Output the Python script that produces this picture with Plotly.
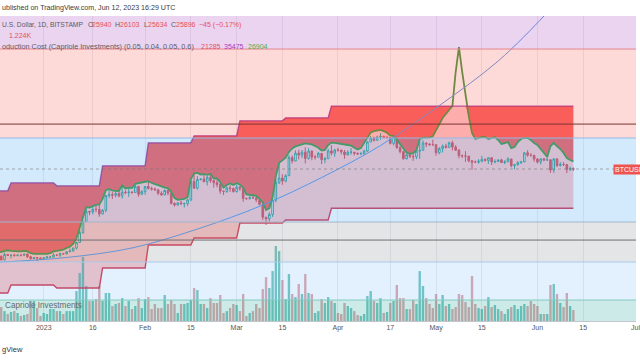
import numpy as np
import pandas as pd
import plotly.graph_objects as go

# ---------------- data ----------------
dates = pd.date_range("2022-12-18", "2023-06-12", freq="D")

open_ = [16780,16740,16440,16900,16820,16830,16780,16840,16830,16920,16700,16550,16630,16600,
 16540,16610,16670,16670,16850,16830,16950,16940,17120,17180,17440,17940,18850,19930,20950,20880,21170,21160,20680,21070,22670,22780,22710,22920,22630,23060,23010,23080,23030,23740,22830,
 23130,23730,23490,23430,23330,22930,22760,23260,22960,21800,21630,21860,21780,21790,22200,24330,23520,24570,24630,24300,24840,24450,24190,23950,23190,23160,23560,23490,
 23130,23650,23470,22360,22350,22430,22410,22200,21700,20360,20190,20630,22160,24200,24750,24380,25050,27420,26960,28040,27770,28170,27300,28330,27490,27490,27990,27140,27270,28350,28030,
 28480,28460,28200,27800,28170,28170,28030,27920,27950,28330,29650,30230,29890,30390,30480,30320,30320,29440,30400,28820,28250,27270,27820,27590,27520,28310,28430,29480,29340,29250,
 29230,28090,28680,29030,28850,29530,28900,28450,27690,27650,27620,26990,26800,26780,26930,27190,27030,27400,26830,26890,27110,26750,26850,27230,26330,26470,26720,26860,28080,27750,27700,
 27220,26820,27250,27080,27120,25760,27240,26350,26500,26480,25850,25940]
high = [16860,16810,17050,16920,16860,16960,16870,16860,16940,16970,16780,16660,16640,16640,
 16640,16770,16760,16990,16880,17040,16980,17170,17400,17490,17990,19110,19990,21260,21000,21460,21620,21650,21190,22750,23380,23080,23160,23130,23790,23290,23500,23160,23950,23800,23300,
 23800,24250,23710,23590,23440,23160,23370,23450,23010,21930,21900,22090,21890,22310,24390,25250,24990,24720,25130,25030,25120,24480,24600,24130,23220,23680,23880,23600,
 23980,23790,23480,22420,22620,22600,22540,22280,21830,20370,20860,22200,24560,26460,25240,25210,27750,27720,28430,28520,28480,28870,28730,28420,27780,28200,28040,27500,28650,29170,28650,
 28800,28530,28490,28440,28750,28190,28110,28170,28520,29770,30550,30450,30600,31000,30600,30570,30350,30490,30410,29080,28370,27880,27830,28000,28390,30020,29890,29580,29460,29970,
 29340,28880,29270,29370,29690,29840,29180,28630,27830,28320,27640,27070,27030,27200,27660,27280,27480,27480,27180,27150,27270,27060,27480,27230,26530,26940,26880,28200,28440,28050,27830,
 27350,27300,27330,27440,27140,27350,27360,26800,26800,26530,26210,26103]
low = [16700,16400,16400,16760,16560,16770,16780,16730,16790,16600,16470,16510,16340,16480,
 16490,16550,16600,16650,16750,16680,16910,16920,17100,17150,17320,17920,18720,19890,20560,20640,20870,20400,20660,20870,22420,22300,22480,22480,22330,22850,22540,22880,22990,22550,22740,
 22770,23380,23230,23260,22760,22640,22700,22700,21700,21460,21600,21640,21370,21540,22050,23500,23360,24470,24270,23850,24160,23600,23630,22870,22730,22980,23100,23030,
 23030,23220,21980,22180,22200,22330,21940,21600,20060,19570,19900,20380,21920,24030,23930,24220,25000,26630,26890,27180,27380,26630,27140,27050,27150,27400,26550,26660,27240,27720,27540,
 28250,27870,27260,27680,27820,27720,27780,27880,27820,28190,29620,29700,29860,29960,30230,30150,29270,29140,28660,28010,27140,27150,27350,26970,27210,27250,28380,28900,29090,29120,
 27680,27880,28130,28700,28800,28400,28410,27330,27370,26840,26760,25810,26700,26610,26770,26880,26560,26420,26640,26800,26680,26540,26810,26110,25870,26330,26570,26780,27540,27560,26850,
 26620,26510,26940,26960,25400,25400,26140,26220,26290,25380,25650,25634]
close = [16740,16440,16900,16820,16830,16780,16840,16830,16920,16700,16550,16630,16600,16540,
 16610,16670,16670,16850,16830,16950,16940,17120,17180,17440,17940,18850,19930,20950,20880,21170,21160,20680,21070,22670,22780,22710,22920,22630,23060,23010,23080,23030,23740,22830,23130,
 23730,23490,23430,23330,22930,22760,23260,22960,21800,21630,21860,21780,21790,22200,24330,23520,24570,24630,24300,24840,24450,24190,23950,23190,23160,23560,23490,23130,
 23650,23470,22360,22350,22430,22410,22200,21700,20360,20190,20630,22160,24200,24750,24380,25050,27420,26960,28040,27770,28170,27300,28330,27490,27490,27990,27140,27270,28350,28030,28480,
 28460,28200,27800,28170,28170,28030,27920,27950,28330,29650,30230,29890,30390,30480,30320,30320,29440,30400,28820,28250,27270,27820,27590,27520,28310,28430,29480,29340,29250,29230,
 28090,28680,29030,28850,29530,28900,28450,27690,27650,27620,26990,26800,26780,26930,27190,27030,27400,26830,26890,27110,26750,26850,27230,26330,26470,26720,26860,28080,27750,27700,27220,
 26820,27250,27080,27120,25760,27240,26350,26500,26480,25850,25940,25896]
volume = [2000,1550,1100,780,1000,1100,890,560,670,780,2220,2220,1440,560,
 890,780,1330,1330,1100,1100,780,1100,1100,1100,3330,5330,7100,3890,2220,2220,2440,3890,2220,3110,3110,1670,1890,2000,2550,1670,2220,1330,1670,2550,1440,
 2440,2660,1330,1890,1440,1440,2890,1890,2330,1890,890,1890,1890,2000,2330,3660,3440,1890,1890,1440,2550,2000,2000,2890,890,1100,1440,1890,
 1780,1100,3000,560,890,1100,1890,1440,3550,4880,3660,5550,8330,7770,4550,2440,5220,3000,2660,4110,3000,5220,3110,3000,890,1100,2440,2000,2660,2220,2000,
 890,780,2000,1670,1440,1100,670,560,780,2780,3330,2220,2000,2550,890,1000,2000,2220,4000,2550,2550,1330,1330,2330,1890,5550,3890,2550,1890,1440,
 3000,1890,2890,1670,1890,1330,1550,3000,2890,2110,1550,5000,1890,1440,1330,1670,2660,1550,1780,1330,1100,780,1330,1550,1780,1330,1670,1890,1670,2220,1890,
 1670,780,780,780,4000,4110,3000,2000,1550,3110,1670,1224]
# green line of the production-cost indicator
cost_signal = [17150,17100,17200,17250,17200,17150,17150,17150,17200,17150,17000,16950,16950,16900,
 16900,16950,17000,17150,17200,17250,17300,17450,17550,17800,18300,19300,20400,21400,21350,21500,21650,21700,22300,23300,23450,23250,23250,23200,23850,23500,23600,23550,24050,24150,24250,
 24300,24350,24150,24000,23900,23700,23600,23550,23100,22400,22200,22250,22300,22500,24600,25350,25400,25200,25250,25150,25250,24700,24700,24250,23600,23900,24100,23900,
 24150,23950,23600,22800,22750,22700,22650,22300,21900,21100,21300,22500,25000,26700,27000,27400,28200,28700,29000,29200,29300,29450,29400,29300,29050,28800,28400,28500,29200,29550,29500,
 29450,29350,29300,29200,29100,28800,28550,28750,29500,30400,31100,31300,31450,31500,31300,31050,30600,30550,30000,29300,28600,28100,27950,28050,28450,30100,30300,30300,30350,30500,
 31470,32590,33420,34090,34780,35490,42060,47660,42060,37490,33750,31000,30090,30240,30390,30390,30090,30240,30390,29940,29340,29490,29640,28760,28910,29640,30090,30240,30240,29940,29490,
 29200,28620,28050,27500,29050,29490,29050,28620,28050,27360,27090,26904]

# stepped production-cost levels (start date of each step)
cost_step_start = ["2022-12-18","2022-12-22","2023-01-05","2023-01-19","2023-02-02",
                   "2023-02-16","2023-03-02","2023-03-16","2023-03-30"]
cost_lower = [13930,14500,14285,15787,17711,18340,19769,20067,21285]
cost_upper = [23217,24167,23808,26312,29518,30567,32948,33445,35475]

# blue curve
curve_dates = ["2022-12-18","2023-01-08","2023-01-28","2023-02-17","2023-03-09","2023-03-27",
               "2023-04-14","2023-05-02","2023-05-20","2023-06-03","2023-06-07"]
curve_values = [16250,16640,17450,19180,21630,24820,29120,35570,44440,55650,60000]

# horizontal zones (price edges, bottom -> top) and their colours
Y_BOTTOM, Y_TOP = 12112, 55660
zone_edges = [Y_BOTTOM, 13450, 16267, 19866, 30238, 47185, Y_TOP]
zone_colors = ["rgba(0,150,136,0.20)", "rgba(33,150,243,0.13)", "rgba(120,123,134,0.20)",
               "rgba(33,150,243,0.20)", "rgba(244,67,54,0.20)", "rgba(156,39,176,0.20)"]
level_lines = [(13450, "#86cbc2"), (16267, "#a9cbea"), (18155, "#6f6f6f"), (19866, "#a3b6cc"),
               (30238, "#93b9e6"), (32420, "#7a3535"), (47185, "#e5858f")]

tick_vals = ["2023-01-01","2023-01-16","2023-02-01","2023-02-15","2023-03-01","2023-03-15",
             "2023-04-01","2023-04-17","2023-05-01","2023-05-15","2023-06-01","2023-06-15","2023-07-01"]
tick_text = ["2023","16","Feb","15","Mar","15","Apr","17","May","15","Jun","15","Jul"]

# ---------------- derived ----------------
step_idx = pd.to_datetime(cost_step_start)
lower_d = pd.Series(cost_lower, index=step_idx).reindex(dates, method="ffill").values
upper_d = pd.Series(cost_upper, index=step_idx).reindex(dates, method="ffill").values
signal = np.array(cost_signal, dtype=float)
mid = np.minimum(signal, upper_d)

FONT = "Liberation Sans"
fig = go.Figure()

# fills (main log axis y)
fig.add_trace(go.Scatter(x=dates, y=lower_d, mode="lines", line=dict(width=0),
                         hoverinfo="skip"))
fig.add_trace(go.Scatter(x=dates, y=mid, mode="lines", line=dict(width=0), fill="tonexty",
                         fillcolor="rgb(255,200,202)", hoverinfo="skip"))
fig.add_trace(go.Scatter(x=dates, y=upper_d, mode="lines", line=dict(width=0), fill="tonexty",
                         fillcolor="rgb(252,102,99)", hoverinfo="skip"))

# volume (y2)
vol_colors = ["rgba(38,166,154,0.6)" if c >= o else "rgba(205,100,108,0.55)"
              for o, c in zip(open_, close)]
fig.add_trace(go.Bar(x=dates, y=volume, marker=dict(color=vol_colors, line=dict(width=0)),
                     yaxis="y2", hoverinfo="skip"))

# candles and lines on top (y3, same log scale as y)
fig.add_trace(go.Candlestick(
    x=dates, open=open_, high=high, low=low, close=close, yaxis="y3",
    increasing=dict(line=dict(color="#3fa39b", width=1), fillcolor="rgba(255,255,255,0.9)"),
    decreasing=dict(line=dict(color="#e2535c", width=1), fillcolor="#e2535c"),
    whiskerwidth=0, hoverinfo="skip"))
fig.add_trace(go.Scatter(x=dates, y=signal, mode="lines", yaxis="y3",
                         line=dict(color="#4f9c45", width=1.8), hoverinfo="skip"))
fig.add_trace(go.Scatter(x=dates, y=upper_d, mode="lines", yaxis="y3",
                         line=dict(color="rgba(150,40,150,0.75)", width=1.4), hoverinfo="skip"))
fig.add_trace(go.Scatter(x=dates, y=lower_d, mode="lines", yaxis="y3",
                         line=dict(color="#dd3f55", width=1.4), hoverinfo="skip"))
fig.add_trace(go.Scatter(x=pd.to_datetime(curve_dates), y=curve_values, mode="lines", yaxis="y3",
                         line=dict(color="#5f9de8", width=1, shape="spline"), hoverinfo="skip"))

# zones and level lines on top (translucent)
shapes = []
for i, col in enumerate(zone_colors):
    shapes.append(dict(type="rect", xref="paper", yref="y", x0=0, x1=1,
                       y0=zone_edges[i], y1=zone_edges[i + 1], fillcolor=col,
                       line=dict(width=0), layer="above"))
for lvl, col in level_lines:
    shapes.append(dict(type="line", xref="paper", yref="y", x0=0, x1=1, y0=lvl, y1=lvl,
                       line=dict(color=col, width=1), layer="above"))
shapes.append(dict(type="line", xref="paper", yref="y", x0=0, x1=1, y0=close[-1], y1=close[-1],
                   line=dict(color="rgba(120,120,120,0.6)", width=1, dash="dot"), layer="above"))
fig.update_layout(shapes=shapes)

def px_x(x):
    return x / 640

def px_y(y):
    return (321 - y) / 305

GREY = "#5b5b66"
RED = "#e8505a"
ann = []

def txt(s, x, y, color, size=7):
    ann.append(dict(text=s, x=px_x(x), y=px_y(y), xref="paper", yref="paper",
                    xanchor="left", yanchor="middle", showarrow=False,
                    font=dict(family=FONT, size=size, color=color)))

txt("ublished on TradingView.com, Jun 12, 2023 16:29 UTC", 0, 8, "#3a3a3a", 7.1)
txt("U.S. Dollar, 1D, BITSTAMP", 0, 25, GREY, 6.7)
txt("O", 86.5, 25, GREY); txt(f"{open_[-1]}", 91, 25, RED)
txt("H", 114, 25, GREY); txt(f"{high[-1]}", 119, 25, RED)
txt("L", 143, 25, GREY); txt(f"{low[-1]}", 147, 25, RED)
txt("C", 170.5, 25, GREY); txt(f"{close[-1]}", 175, 25, RED)
txt("\u221245 (\u22120.17%)", 198, 25, RED)
txt(f"{volume[-1] / 1000:.3f}K", 7.5, 36, RED)
txt("oduction Cost (Capriole Investments) (0.05, 0.04, 0.05, 0.6)", 0, 47, GREY, 7.3)
txt(f"{cost_lower[-1]}", 200, 47, RED)
txt(f"{cost_upper[-1]}", 223, 47, "#a43fc2")
txt(f"{cost_signal[-1]}", 247.5, 47, "#4caf50")
txt("Capriole Investments", 3, 305, "#666a70", 8.2)
txt("gView", 0, 349, "#333333", 7.5)

ann.append(dict(text="BTCUSD", x=px_x(617), y=np.log10(close[-1]), xref="paper", yref="y",
                xanchor="left", yanchor="middle", showarrow=False, bgcolor="#ef5350",
                borderpad=1, font=dict(family=FONT, size=7, color="white")))
fig.update_layout(annotations=ann)

x0 = pd.Timestamp("2023-01-01") - pd.Timedelta(days=13.374)
x1 = pd.Timestamp("2023-01-01") + pd.Timedelta(days=181.155)
yr = [np.log10(Y_BOTTOM), np.log10(Y_TOP)]

fig.update_layout(
    width=640, height=360, autosize=False,
    margin=dict(l=0, r=0, t=16, b=39),
    paper_bgcolor="white", plot_bgcolor="white",
    showlegend=False, bargap=0.28,
    xaxis=dict(range=[x0, x1], rangeslider=dict(visible=False), tickvals=tick_vals,
               ticktext=tick_text, showgrid=True, gridcolor="rgba(140,140,160,0.16)",
               gridwidth=1, showline=True, linecolor="#c3c5cc", linewidth=1, ticks="",
               ticklabeloverflow="allow",
               tickfont=dict(family=FONT, size=7, color="#555555"), zeroline=False),
    yaxis=dict(type="log", range=yr, showgrid=False,
               showticklabels=False, zeroline=False, fixedrange=True),
    yaxis2=dict(overlaying="y", range=[0, 33900], showgrid=False, showticklabels=False,
                zeroline=False, fixedrange=True),
    yaxis3=dict(overlaying="y", type="log", range=yr, showgrid=False, showticklabels=False,
                zeroline=False, fixedrange=True),
)

fig.write_html("out.html", config={"displayModeBar": False},
               post_script="document.body.style.margin='0px';")
